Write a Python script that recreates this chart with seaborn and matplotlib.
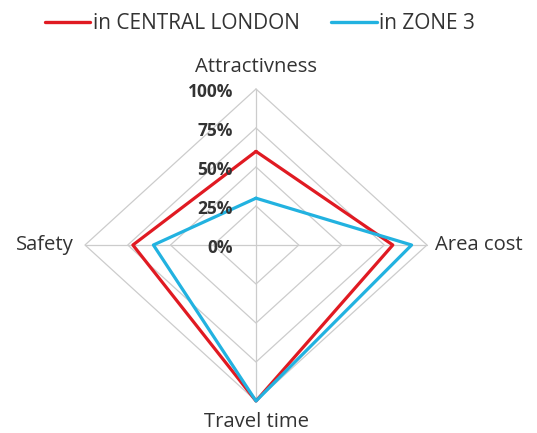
import numpy as np
import pandas as pd
import matplotlib
matplotlib.use("Agg")
import matplotlib.pyplot as plt
import seaborn as sns

# data
categories = ['Attractivness', 'Area cost', 'Travel time', 'Safety']
central_london = [0.60, 0.80, 1.00, 0.72]
zone_3 = [0.30, 0.91, 1.00, 0.60]
levels = [0.0, 0.25, 0.50, 0.75, 1.00]
level_labels = ['0%', '25%', '50%', '75%', '100%']
series_names = ['in CENTRAL LONDON', 'in ZONE 3']
colors = ['#e01a22', '#22b2e0']

sns.set_theme(style="white")
plt.rcParams['font.family'] = ['Open Sans', 'DejaVu Sans']

# angles: first axis at top, going clockwise
n = len(categories)
angles = np.pi / 2 - np.arange(n) * 2 * np.pi / n


def to_xy(vals):
    vals = list(vals) + [vals[0]]
    ang = list(angles) + [angles[0]]
    return np.array(vals) * np.cos(ang), np.array(vals) * np.sin(ang)


rows = []
for name, vals in zip(series_names, [central_london, zone_3]):
    xs, ys = to_xy(vals)
    for k, (x, y) in enumerate(zip(xs, ys)):
        rows.append({'series': name, 'order': k, 'x': x, 'y': y})
df = pd.DataFrame(rows)

fig = plt.figure(figsize=(5.37, 4.33), dpi=100)
ax = fig.add_axes([85 / 537, 32 / 433, 342 / 537, 312 / 433])
ax.set_xlim(-1, 1)
ax.set_ylim(-1, 1)
ax.axis('off')

# diamond grid + spokes
for lv in levels[1:]:
    gx, gy = to_xy([lv] * n)
    ax.plot(gx, gy, color='#cccccc', lw=0.9, zorder=1, clip_on=False)
for a in angles:
    ax.plot([0, np.cos(a)], [0, np.sin(a)], color='#cccccc', lw=0.9, zorder=1, clip_on=False)

sns.lineplot(data=df, x='x', y='y', hue='series', sort=False, estimator=None,
             units='series', palette=colors, linewidth=2.3, ax=ax, legend=False,
             zorder=3)
for line in ax.lines[-2:]:
    line.set_clip_on(False)

# axis labels
lab_kw = dict(fontsize=14.6, color='#333333')
ax.text(0, 1.14, categories[0], ha='center', va='center', **lab_kw)
ax.text(1.045, 0, categories[1], ha='left', va='center', **lab_kw)
ax.text(0, -1.135, categories[2], ha='center', va='center', **lab_kw)
ax.text(-1.065, 0, categories[3], ha='right', va='center', **lab_kw)

# radial tick labels
for lv, lab in zip(levels, level_labels):
    ax.text(-0.135, lv - 0.02, lab, ha='right', va='center', fontsize=12.5,
            fontweight='bold', color='#333333')

# legend at top
handles = [plt.Line2D([0], [0], color=c, lw=2.4) for c in colors]
fig.legend(handles, series_names, loc='center', bbox_to_anchor=(0.484, 0.945),
           ncol=2, frameon=False, fontsize=15, handlelength=2.2, handletextpad=0.12,
           columnspacing=1.5, labelcolor='#333333')

fig.savefig('out.png', dpi=100)
